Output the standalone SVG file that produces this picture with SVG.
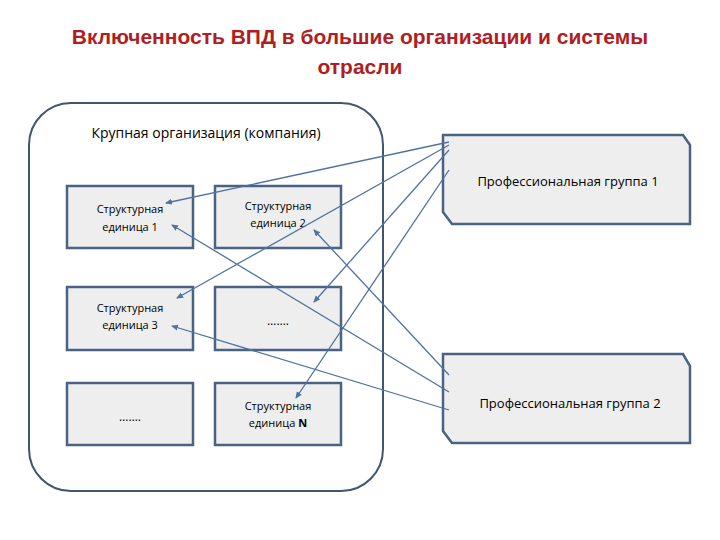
<svg xmlns="http://www.w3.org/2000/svg" width="720" height="540" viewBox="0 0 720 540">
<style>
.t{font-family:"Open Sans","DejaVu Sans",sans-serif;fill:#000;text-anchor:middle}
.box{fill:#eeeeee;stroke:#4a6385;stroke-width:2.5}
.c line{stroke:#4f73a0;stroke-width:1.3;marker-end:url(#a)}
</style>
<defs><marker id="a" markerWidth="8" markerHeight="8" refX="6" refY="3" orient="auto" markerUnits="userSpaceOnUse"><path d="M0,0L7,3L0,6z" fill="#4f73a0"/></marker></defs>
<rect width="720" height="540" fill="#fff"/>
<g id="title" font-family="Liberation Sans,Arial,sans-serif" font-weight="bold" font-size="21" fill="#b01e23" text-anchor="middle">
<text x="360" y="44">Включенность ВПД в большие организации и системы</text>
<text x="360" y="74">отрасли</text></g>
<g id="org"><rect x="29" y="103" width="354" height="388" rx="42" fill="#fff" stroke="#3f5570" stroke-width="2"/>
<text class="t" x="206" y="138" font-size="14">Крупная организация (компания)</text></g>
<g id="se1"><rect class="box" x="67" y="186" width="126" height="62"/><text class="t" x="130" y="213" font-size="11">Структурная</text><text class="t" x="130" y="231" font-size="11">единица 1</text></g>
<g id="se2"><rect class="box" x="215" y="186" width="126" height="62"/><text class="t" x="278" y="210" font-size="11">Структурная</text><text class="t" x="278" y="227" font-size="11">единица 2</text></g>
<g id="se3"><rect class="box" x="67" y="287" width="126" height="63"/><text class="t" x="130" y="312" font-size="11">Структурная</text><text class="t" x="130" y="329" font-size="11">единица 3</text></g>
<g id="dots1"><rect class="box" x="215" y="287" width="126" height="63"/><text class="t" x="278" y="325" font-size="12">…….</text></g>
<g id="dots2"><rect class="box" x="67" y="383" width="126" height="62"/><text class="t" x="130" y="421" font-size="12">…….</text></g>
<g id="seN"><rect class="box" x="215" y="383" width="126" height="62"/><text class="t" x="278" y="410" font-size="11">Структурная</text><text class="t" x="278" y="427" font-size="11">единица <tspan font-weight="bold">N</tspan></text></g>
<g id="pg1"><path class="box" d="M443,135H683L690,145V224H452L443,212Z"/><text class="t" x="568" y="186" font-size="13">Профессиональная группа 1</text></g>
<g id="pg2"><path class="box" d="M443,354H683L690,366V443H452L443,431Z"/><text class="t" x="570" y="408" font-size="13">Профессиональная группа 2</text></g>
<g class="c" id="connectors">
<line x1="449" y1="142" x2="166" y2="203"/>
<line x1="449" y1="145" x2="177" y2="298"/>
<line x1="449" y1="150" x2="314" y2="302"/>
<line x1="449" y1="170" x2="296" y2="398"/>
<line x1="449" y1="375" x2="314" y2="230"/>
<line x1="449" y1="392" x2="172" y2="225"/>
<line x1="449" y1="410" x2="172" y2="326"/>
</g>
</svg>
